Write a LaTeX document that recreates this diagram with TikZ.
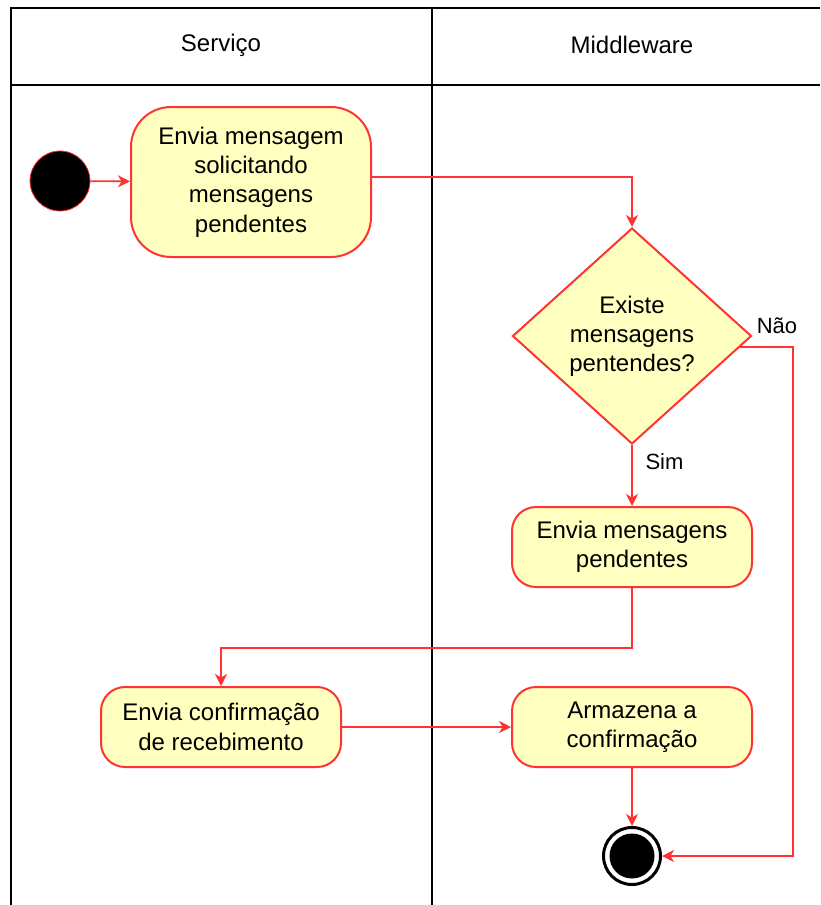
\documentclass[tikz,border=0pt]{standalone}
\usepackage{fontspec}
\setmainfont{Liberation Sans}
\usetikzlibrary{math,shapes.geometric,arrows.meta,calc}
\definecolor{borda}{HTML}{FF3333}
\definecolor{fundo}{HTML}{FFFFC0}

\begin{document}
\begin{tikzpicture}[x=0.5pt,y=-0.5pt,
    atividade/.style={draw=borda,fill=fundo,line width=1pt,align=center,text=black,
      minimum width=120pt,minimum height=40pt,rounded corners=12pt,inner sep=0pt,
      font=\fontsize{12}{14.6}\selectfont},
    decide/.style={diamond,draw=borda,fill=fundo,line width=1pt,align=center,text=black,
      minimum width=119.5pt,minimum height=108pt,inner sep=0pt,
      font=\fontsize{12}{14.6}\selectfont},
    fluxo/.style={draw=borda,line width=0.9pt,-{Stealth[length=6pt,width=6pt,inset=1.8pt]}},
    rotulo/.style={text=black,font=\fontsize{11}{13}\selectfont},
    cabeca/.style={text=black,font=\fontsize{12}{14.4}\selectfont},
    raia/.style={black,line width=1pt}]
      \tikzmath{\xa = 11; \xm = 432; \xb = 820; \ytop = 8; \yhead = 85; \ybot = 905; \ls = 221; \lm = 632;}
      \useasboundingbox (0,0) rectangle (820,905);
      % raias
      \draw[raia] (\xa,\ybot) -- (\xa,\ytop) -- (\xb,\ytop);
      \draw[raia] (\xa,\yhead) -- (\xb,\yhead);
      \draw[raia] (\xm,\ytop) -- (\xm,\ybot);
      \node[cabeca] (servico) at (\ls,45) {Serviço};
      \node[cabeca] (middleware) at (\lm,45) {Middleware};
      % nos
      \node[circle,fill=black,draw=borda,line width=0.4pt,minimum size=30pt,inner sep=0pt] (inicio) at (60,181) {};
      \node[atividade,minimum height=75pt,rounded corners=20pt] (pedido) at (251,182) {Envia mensagem\\solicitando\\mensagens\\pendentes};
      \node[decide] (decisao) at (\lm,336) {Existe\\mensagens\\pentendes?};
      \node[atividade] (envio) at (\lm,547) {Envia mensagens\\pendentes};
      \node[atividade] (confirma) at (\ls,727) {Envia confirmação\\de recebimento};
      \node[atividade] (armazena) at (\lm,727) {Armazena a\\confirmação};
      \node[circle,draw=black,line width=1.5pt,fill=white,minimum size=28.5pt,inner sep=0pt] (fim) at (\lm,856) {};
      \fill[black] (fim.center) circle (11.25pt);
      \coordinate (desvio) at (793,856);
      % fluxos
      \draw[fluxo] (inicio) -- (pedido);
      \draw[fluxo] ($(pedido.east)+(0,-5)$) -| (decisao.north);
      \draw[fluxo] (decisao.south) -- node[rotulo,right=3pt,pos=0.27] (sim) {Sim} (envio.north);
      \draw[fluxo] ($(decisao.east)!0.1!(decisao.south)$) -| (desvio) -- (fim.east);
      \node[rotulo] (nao) at (777,326) {Não};
      \draw[fluxo] (envio.south) -- ++(0,60) -| (confirma.north);
      \draw[fluxo] (confirma) -- (armazena);
      \draw[fluxo] (armazena) -- (fim);
\end{tikzpicture}
\end{document}
